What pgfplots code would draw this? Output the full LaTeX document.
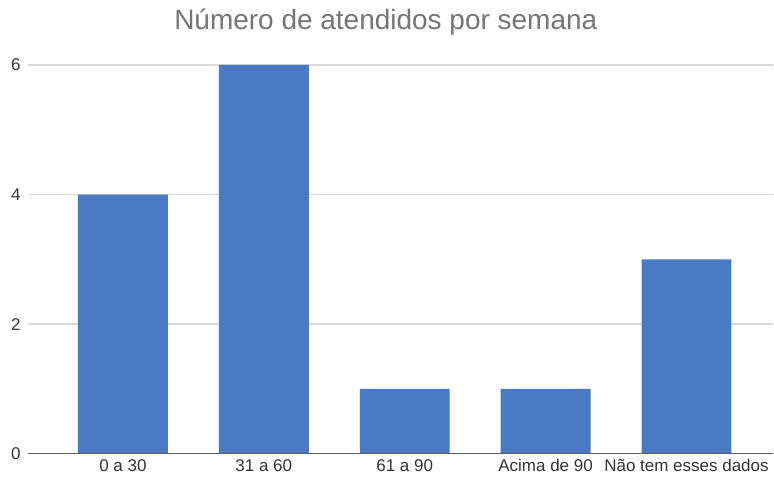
\documentclass[border=0pt]{standalone}
\usepackage{pgfplots}
\pgfplotsset{compat=1.18}
\usepackage{fontspec}
\setmainfont{Liberation Sans}
\definecolor{barblue}{HTML}{4A7BC2}
\definecolor{gridgray}{HTML}{D9D9D9}
\definecolor{titlegray}{HTML}{757575}
\definecolor{ticktext}{HTML}{333333}
\begin{document}
\begin{tikzpicture}
\begin{axis}[
  scale only axis,
  width=746bp, height=414.9bp,
  xmin=-0.674, xmax=4.617,
  ymin=0, ymax=6.4,
  axis line style={draw=none},
  ytick={0,2,4,6},
  xtick={0,1,2,3,4},
  xticklabels={0 a 30, 31 a 60, 61 a 90, Acima de 90, Não tem esses dados},
  major tick length=0pt,
  ymajorgrids,
  grid style={gridgray, line width=1.2bp},
  tick label style={font=\fontsize{17bp}{19bp}\selectfont, text=ticktext},
  /pgf/number format/assume math mode=true,
  yticklabel style={xshift=-4bp},
  xticklabel style={yshift=-2bp},
  title={Número de atendidos por semana},
  title style={font=\fontsize{28bp}{32bp}\selectfont, text=titlegray, at={(axis description cs:0.48,1)}, anchor=base, yshift=4bp},
  clip=false,
]
\addplot[ybar, bar width=0.638, fill=barblue, draw=none] coordinates {
  (0,4) (1,6) (2,1) (3,1) (4,3)
};
\draw[color=ticktext!80, line width=1bp] (rel axis cs:0,0) -- (rel axis cs:1,0);
\path (rel axis cs:0,0) ++(-28bp,-24bp) (rel axis cs:0,0) ++(0,454bp);
\end{axis}
\end{tikzpicture}
\end{document}
